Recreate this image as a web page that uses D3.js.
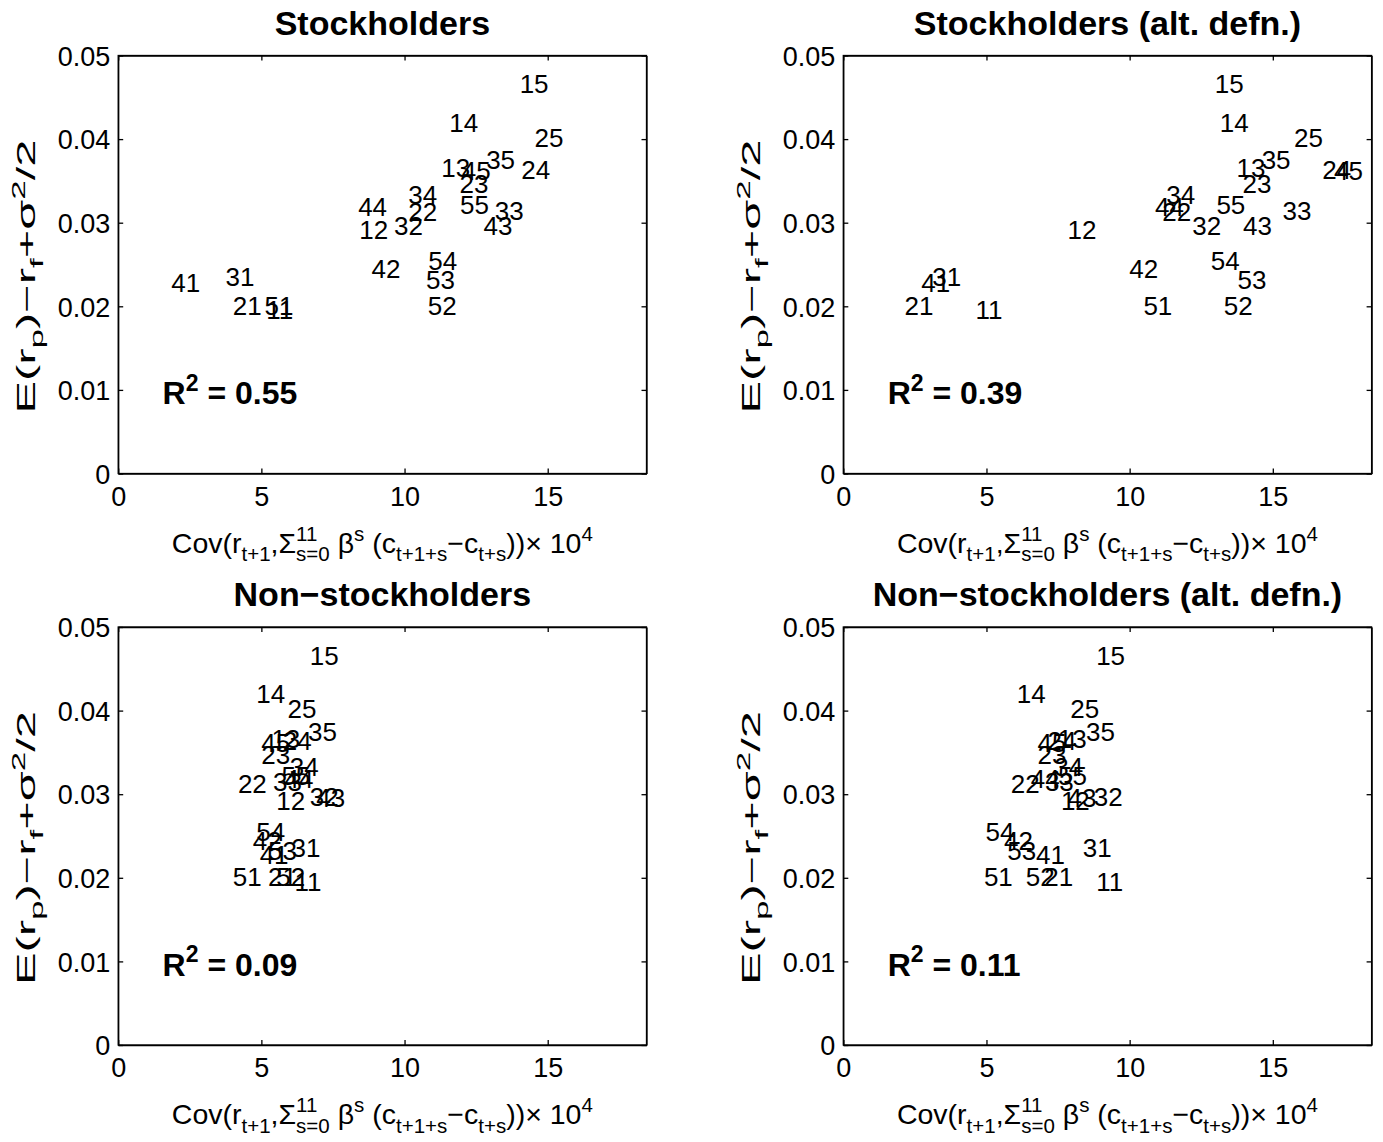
<!DOCTYPE html>
<html>
<head>
<meta charset="utf-8">
<script src="https://cdn.jsdelivr.net/npm/d3@7"></script>
<style>
    body { margin: 0; background: #fff; }
    svg { font-family: 'Liberation Sans', Arial, Helvetica, sans-serif; }
</style>
</head>
<body>
<svg id="chart" width="1383" height="1142"></svg>
<script>
// portfolio labels (size x book-to-market)
var labels = ['11', '12', '13', '14', '15', '21', '22', '23', '24', '25',
    '31', '32', '33', '34', '35', '41', '42', '43', '44', '45',
    '51', '52', '53', '54', '55'];

// E(r_p) - r_f + sigma^2/2, same in all panels
var excessReturn = [0.0196, 0.0292, 0.0366, 0.0420, 0.0466, 0.0201, 0.0313, 0.0347, 0.0364, 0.0402,
    0.0236, 0.0297, 0.0315, 0.0333, 0.0375, 0.0228, 0.0245, 0.0296, 0.0319, 0.0362,
    0.0201, 0.0201, 0.0232, 0.0255, 0.0322];

// covariance x 10^4, one array per panel
var covStock = [5.17, 8.42, 11.28, 11.56, 14.02, 4.00, 10.13, 11.92, 14.08, 14.54,
    3.75, 9.63, 13.15, 10.13, 12.85, 1.85, 8.85, 12.76, 8.38, 12.00,
    5.11, 10.81, 10.75, 10.83, 11.94];
var covStockAlt = [4.62, 7.83, 13.73, 13.15, 12.97, 2.14, 11.14, 13.94, 16.73, 15.74,
    3.11, 12.19, 15.34, 11.28, 14.61, 2.72, 9.99, 13.96, 10.89, 17.14,
    10.48, 13.29, 13.77, 12.83, 13.03];
var covNon = [6.16, 5.52, 5.35, 4.82, 6.69, 5.23, 4.18, 5.00, 5.75, 5.91,
    6.05, 6.69, 5.41, 5.99, 6.63, 4.94, 4.70, 6.92, 5.81, 5.00,
    4.00, 5.52, 5.23, 4.82, 5.70];
var covNonAlt = [8.83, 7.60, 7.49, 6.06, 8.83, 7.02, 5.85, 6.78, 7.13, 7.93,
    8.36, 8.75, 7.04, 7.37, 8.48, 6.73, 5.61, 7.83, 6.55, 6.78,
    4.91, 6.37, 5.73, 4.97, 7.50];

var panelTitles = ['Stockholders', 'Stockholders (alt. defn.)',
    'Non\u2212stockholders', 'Non\u2212stockholders (alt. defn.)'];
var rSquared = ['0.55', '0.39', '0.09', '0.11'];
var xTicks = [0, 5, 10, 15];
var yTicks = [0, 0.01, 0.02, 0.03, 0.04, 0.05];
var xMax = 18.45;
var r2Pos = [1.55, 0.0083];

var panelX = [covStock, covStockAlt, covNon, covNonAlt];

var svg = d3.select('#chart');
var plotW = 528.3, plotH = 418;
var lefts = [118.2, 843.3], tops = [55.5, 627];
var tickLen = 5;
var tickFont = 27, labelFont = 26, axisFont = 28.5;

// draws a text made of plain / sub / sup parts; 'stack' puts a part under the previous one
function richText(textSel, parts, fs) {
    var cur = 0;
    var prev = null;
    parts.forEach(function(p) {
        var target = p.sub ? fs * 0.3 : (p.sup ? -fs * 0.42 : 0);
        var small = p.sub || p.sup;
        var ts = textSel.append('tspan')
            .attr('dy', target - cur)
            .style('font-size', (small ? fs * 0.72 : fs) + 'px')
            .text(p.t);
        if (p.stack && prev) {
            ts.attr('dx', -prev.getComputedTextLength());
        }
        prev = ts.node();
        cur = target;
    });
}

var xLabelParts = [
    {t: 'Cov(r'}, {t: 't+1', sub: true}, {t: ',\u03A3'}, {t: '11', sup: true},
    {t: 's=0', sub: true, stack: true}, {t: ' \u03B2'}, {t: 's', sup: true},
    {t: ' (c'}, {t: 't+1+s', sub: true}, {t: '\u2212c'}, {t: 't+s', sub: true},
    {t: '))\u00D7 10'}, {t: '4', sup: true}
];
var yLabelParts = [
    {t: 'E(r'}, {t: 'p', sub: true}, {t: ')\u2212r'}, {t: 'f', sub: true},
    {t: '+\u03C3'}, {t: '2', sup: true}, {t: '/2'}
];

panelX.forEach(function(xs, i) {
    var left = lefts[i % 2];
    var top = tops[Math.floor(i / 2)];
    var g = svg.append('g').attr('transform', 'translate(' + left + ',' + top + ')');

    var x = d3.scaleLinear().domain([0, xMax]).range([0, plotW]);
    var y = d3.scaleLinear().domain([0, 0.05]).range([plotH, 0]);

    // axes box with inward ticks on all sides
    var axes = [
        d3.axisBottom(x).tickValues(xTicks).tickSizeInner(-tickLen).tickSizeOuter(0).tickFormat(d3.format('d')),
        d3.axisTop(x).tickValues(xTicks).tickSizeInner(-tickLen).tickSizeOuter(0).tickFormat(''),
        d3.axisLeft(y).tickValues(yTicks).tickSizeInner(-tickLen).tickSizeOuter(0).tickFormat(function(d) { return d === 0 ? '0' : d3.format('.2f')(d); }),
        d3.axisRight(y).tickValues(yTicks).tickSizeInner(-tickLen).tickSizeOuter(0).tickFormat('')
    ];
    var shifts = ['0,' + plotH, '0,0', '0,0', plotW + ',0'];
    axes.forEach(function(ax, k) {
        var a = g.append('g').attr('transform', 'translate(' + shifts[k] + ')').call(ax);
        a.selectAll('path, line').attr('stroke', '#000').attr('stroke-width', 1.3);
        a.selectAll('text').attr('fill', '#000').style('font-size', tickFont + 'px')
            .style('font-family', "'Liberation Sans', Arial, sans-serif");
        if (k === 0) {
            a.selectAll('text').attr('y', 13).attr('dy', '0.71em');
        }
        if (k === 2) {
            a.selectAll('text').attr('x', -8).attr('dy', '0.36em');
        }
    });
    g.append('rect').attr('width', plotW).attr('height', plotH)
        .attr('fill', 'none').attr('stroke', '#000').attr('stroke-width', 1.3);

    // portfolio labels as markers
    g.append('g').selectAll('text')
        .data(labels)
        .enter().append('text')
        .attr('x', function(d, j) { return x(xs[j]); })
        .attr('y', function(d, j) { return y(excessReturn[j]); })
        .attr('dy', '0.36em')
        .style('font-size', labelFont + 'px')
        .text(function(d) { return d; });

    // R^2 annotation
    var r2 = g.append('text')
        .attr('x', x(r2Pos[0]))
        .attr('y', y(r2Pos[1]))
        .attr('dy', '0.36em')
        .style('font-weight', 'bold');
    richText(r2, [{t: 'R'}, {t: '2', sup: true}, {t: ' = ' + rSquared[i]}], 32);

    // title
    g.append('text')
        .attr('x', plotW / 2)
        .attr('y', -21)
        .attr('text-anchor', 'middle')
        .style('font-weight', 'bold')
        .style('font-size', '34px')
        .text(panelTitles[i]);

    // x label
    var xl = g.append('text')
        .attr('x', plotW / 2)
        .attr('y', plotH + 79)
        .attr('text-anchor', 'middle');
    richText(xl, xLabelParts, axisFont);

    // y label (stretched along its length like the original)
    var yl = g.append('text')
        .attr('transform', 'translate(-83,' + (plotH / 2 + 12) + ') rotate(-90) scale(1.95,1)')
        .attr('text-anchor', 'middle');
    richText(yl, yLabelParts, 25);
});
</script>
</body>
</html>
